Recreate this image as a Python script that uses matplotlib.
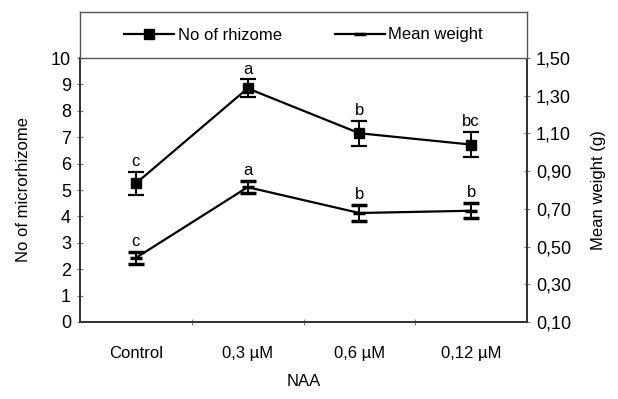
import numpy as np
import matplotlib
matplotlib.use('Agg')
import matplotlib.pyplot as plt
from matplotlib.lines import Line2D

plt.rcParams['font.family'] = ['Liberation Sans', 'DejaVu Sans']

# data
groups = ['Control', '0,3 µM', '0,6 µM', '0,12 µM']
rhizome = [5.25, 8.85, 7.15, 6.72]
rhizome_err = [0.45, 0.34, 0.47, 0.47]
rhizome_letters = ['c', 'a', 'b', 'bc']
weight = [0.44, 0.815, 0.678, 0.69]
weight_err = [0.03, 0.032, 0.045, 0.04]
weight_letters = ['c', 'a', 'b', 'b']

left_ticks = list(range(0, 11))
right_ticks = [0.10, 0.30, 0.50, 0.70, 0.90, 1.10, 1.30, 1.50]
right_labels = ['0,10', '0,30', '0,50', '0,70', '0,90', '1,10', '1,30', '1,50']

fig = plt.figure(figsize=(6.18, 3.99), dpi=100)
L, R, B, T = 80/618, 527/618, 77/399, 341/399
ax = fig.add_axes([L, B, R-L, T-B])
ax2 = ax.twinx()

x = np.arange(len(groups))
fs = 12

ax.errorbar(x, rhizome, yerr=rhizome_err, color='black', lw=1.6, marker='s',
            ms=7, capsize=6, capthick=1.6, elinewidth=1.4)
ax2.errorbar(x, weight, yerr=weight_err, color='black', lw=1.6, marker='_',
             ms=8, mew=2.5, capsize=6, capthick=1.6, elinewidth=1.4)

for xi, v, e, t in zip(x, rhizome, rhizome_err, rhizome_letters):
    ax.annotate(t, (xi, v + e), xytext=(0, 2), textcoords='offset points',
                ha='center', va='bottom', fontsize=fs)
for xi, v, e, t in zip(x, weight, weight_err, weight_letters):
    ax2.annotate(t, (xi, v + e), xytext=(0, 2), textcoords='offset points',
                 ha='center', va='bottom', fontsize=fs)

ax.set_xlim(-0.5, 3.5)
ax.set_ylim(0, 10)
ax2.set_ylim(0.10, 1.50)
ax.set_yticks(left_ticks)
ax2.set_yticks(right_ticks)
ax2.set_yticklabels(right_labels)

ax.set_xticks([0.5, 1.5, 2.5])
ax.set_xticklabels([])
ax.set_xticks(x, minor=True)
ax.set_xticklabels(groups, minor=True)
ax.tick_params(axis='x', which='minor', length=0, pad=17, labelsize=fs)
ax.tick_params(axis='x', which='major', direction='inout', length=5, color='#777777')
ax.tick_params(axis='y', direction='inout', length=5, color='#777777', labelsize=fs + 1, pad=4)
ax2.tick_params(axis='y', direction='inout', length=5, color='#777777', labelsize=fs + 1, pad=4)

ax.set_xlabel('NAA', fontsize=fs, labelpad=10)
ax.set_ylabel('No of microrhizome', fontsize=fs, labelpad=14)
ax2.set_ylabel('Mean weight (g)', fontsize=fs, labelpad=14)

for a in (ax, ax2):
    for s in a.spines.values():
        s.set_linewidth(1.3)
        s.set_color('#333333')

# legend box sitting on top of the plot
lax = fig.add_axes([L, T, R-L, (58-12)/399])
lax.set_xticks([])
lax.set_yticks([])
for s in lax.spines.values():
    s.set_linewidth(1.0)
    s.set_color('#555555')
handles = [Line2D([], [], color='black', lw=1.6, marker='s', ms=7),
           Line2D([], [], color='black', lw=1.6, marker='_', ms=8, mew=2.5)]
lax.legend(handles, ['No of rhizome', 'Mean weight'], loc='center', ncol=2,
           frameon=False, fontsize=fs, handlelength=3.0, columnspacing=3.2,
           handletextpad=0.2)

fig.savefig('out.png', dpi=100)
